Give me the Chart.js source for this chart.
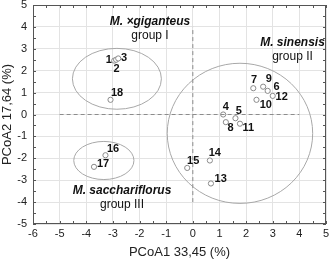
<!DOCTYPE html>
<html>
<head>
<meta charset="utf-8">
<script src="https://cdn.jsdelivr.net/npm/chart.js@4.4.1/dist/chart.umd.min.js"></script>
<style>
  html, body { margin: 0; padding: 0; background: #fff; }
  #wrap { width: 331px; height: 261px; }
</style>
</head>
<body>
<div id="wrap"><canvas id="pcoaChart"></canvas></div>
<script>
// sample ids and PCoA coordinates
const sampleIds = ["1", "2", "3", "4", "5", "6", "7", "8", "9", "10", "11", "12", "13", "14", "15", "16", "17", "18"];
const pcoa1 = [-2.95, -2.88, -2.8, 1.14, 1.6, 2.81, 2.27, 1.24, 2.64, 2.39, 1.77, 3.0, 0.68, 0.64, -0.21, -3.28, -3.71, -3.09];
const pcoa2 = [2.46, 2.5, 2.56, 0.0, -0.17, 1.08, 1.2, -0.35, 1.27, 0.67, -0.42, 0.85, -3.15, -2.1, -2.44, -1.86, -2.39, 0.67];

// group ellipses (centre x, centre y, radius x, radius y) in axis units
const groupNames = ["M. ×giganteus", "M. sinensis", "M. sacchariflorus"];
const groupSub = ["group I", "group II", "group III"];
const groupCx = [-2.85, 1.77, -3.34];
const groupCy = [1.63, -0.86, -2.1];
const groupRx = [1.67, 2.73, 1.13];
const groupRy = [1.39, 3.2, 0.87];

// dashed reference lines
const hLineX = [-5, 4];
const vLineY = [-4, 4];

const xTicks = [-6, -5, -4, -3, -2, -1, 0, 1, 2, 3, 4, 5];
const yTicks = [-5, -4, -3, -2, -1, 0, 1, 2, 3, 4, 5];

// label offsets in px, relative to each point
const labelDx = [-5.5, 0.5, 5.7, 2.7, 3.3, 9, 0.7, 4.7, 5.7, 9.3, 8.3, 9, 9.7, 5, 6, 7.6, 9, 6.6];
const labelDy = [-1, 9, 0, -7.3, -7.4, -4.3, -8.4, 6, -8, 5, 4.4, 0.7, -4.6, -7.6, -7.4, -6.3, -3, -6.6];
// group caption anchors in px
const captionX = [150, 292.5, 122];
const captionY = [22, 43, 191];

const FONT = "'Liberation Sans', Arial, sans-serif";

const points = sampleIds.map((id, i) => ({ x: pcoa1[i], y: pcoa2[i] }));

const overlay = {
    id: "overlay",
    beforeDatasetsDraw(chart) {
        const { ctx, scales: { x, y } } = chart;
        ctx.save();
        ctx.strokeStyle = "#a8a8a8";
        ctx.lineWidth = 1;
        for (let g = 0; g < groupCx.length; g++) {
            const cx = x.getPixelForValue(groupCx[g]);
            const cy = y.getPixelForValue(groupCy[g]);
            const rx = Math.abs(x.getPixelForValue(groupCx[g] + groupRx[g]) - cx);
            const ry = Math.abs(y.getPixelForValue(groupCy[g] + groupRy[g]) - cy);
            ctx.beginPath();
            ctx.ellipse(cx, cy, rx, ry, 0, 0, Math.PI * 2);
            ctx.stroke();
        }
        ctx.restore();
    },
    afterDatasetsDraw(chart) {
        const { ctx, chartArea: a } = chart;
        const meta = chart.getDatasetMeta(2);
        ctx.save();
        ctx.fillStyle = "#111";
        ctx.font = "bold 11px " + FONT;
        ctx.textAlign = "center";
        ctx.textBaseline = "middle";
        meta.data.forEach((el, i) => {
            ctx.fillText(sampleIds[i], el.x + labelDx[i], el.y + labelDy[i]);
        });
        for (let g = 0; g < groupNames.length; g++) {
            ctx.font = "bold italic 12px " + FONT;
            ctx.fillText(groupNames[g], captionX[g], captionY[g]);
            ctx.font = "12px " + FONT;
            ctx.fillText(groupSub[g], captionX[g], captionY[g] + 14);
        }
        // frame with small inward ticks
        ctx.strokeStyle = "#555";
        ctx.lineWidth = 1;
        ctx.strokeRect(a.left + 0.5, a.top + 0.5, a.right - a.left - 1, a.bottom - a.top - 1);
        const { x, y } = chart.scales;
        ctx.beginPath();
        for (let v = -6; v <= 5; v += 0.5) {
            const px = Math.round(x.getPixelForValue(v)) + 0.5;
            ctx.moveTo(px, a.bottom); ctx.lineTo(px, a.bottom - 3);
            ctx.moveTo(px, a.top); ctx.lineTo(px, a.top + 3);
        }
        for (let v = -5; v <= 5; v += 0.5) {
            const py = Math.round(y.getPixelForValue(v)) + 0.5;
            ctx.moveTo(a.left, py); ctx.lineTo(a.left + 3, py);
            ctx.moveTo(a.right, py); ctx.lineTo(a.right - 3, py);
        }
        ctx.stroke();
        ctx.restore();
    }
};

new Chart(document.getElementById("pcoaChart"), {
    type: "scatter",
    data: {
        datasets: [
            {
                data: hLineX.map(v => ({ x: v, y: 0 })),
                showLine: true,
                borderColor: "#8c8c8c",
                borderWidth: 1,
                borderDash: [4, 3],
                pointRadius: 0
            },
            {
                data: vLineY.map(v => ({ x: 0, y: v })),
                showLine: true,
                borderColor: "#8c8c8c",
                borderWidth: 1,
                borderDash: [4, 3],
                pointRadius: 0
            },
            {
                data: points,
                pointRadius: 2.6,
                pointBorderWidth: 1,
                pointBorderColor: "#8a8a8a",
                pointBackgroundColor: "#fff"
            }
        ]
    },
    options: {
        responsive: true,
        maintainAspectRatio: false,
        animation: false,
        events: [],
        layout: { padding: { top: 1, right: 4, left: 0, bottom: 0 } },
        plugins: { legend: { display: false }, tooltip: { enabled: false } },
        scales: {
            x: {
                type: "linear",
                min: -6,
                max: 5,
                afterBuildTicks: s => { s.ticks = xTicks.map(v => ({ value: v })); },
                afterFit: s => { s.height = 37; s.paddingLeft = 0; s.paddingRight = 0; },
                grid: { color: "#e3e3e3", drawTicks: false },
                border: { display: false },
                ticks: { padding: 3, color: "#222", font: { family: FONT, size: 11 } },
                title: {
                    display: true,
                    text: "PCoA1 33,45 (%)",
                    color: "#222",
                    font: { family: FONT, size: 13 },
                    padding: { top: 0, bottom: 1 }
                }
            },
            y: {
                type: "linear",
                min: -5,
                max: 5,
                afterBuildTicks: s => { s.ticks = yTicks.map(v => ({ value: v })); },
                afterFit: s => { s.width = 33; s.paddingTop = 0; s.paddingBottom = 0; },
                grid: { color: "#e3e3e3", drawTicks: false },
                border: { display: false },
                ticks: { padding: 6, color: "#222", font: { family: FONT, size: 11 } },
                title: {
                    display: true,
                    text: "PCoA2 17,64 (%)",
                    color: "#222",
                    font: { family: FONT, size: 13 },
                    padding: { top: 0, bottom: 0 }
                }
            }
        }
    },
    plugins: [overlay]
});
</script>
</body>
</html>
